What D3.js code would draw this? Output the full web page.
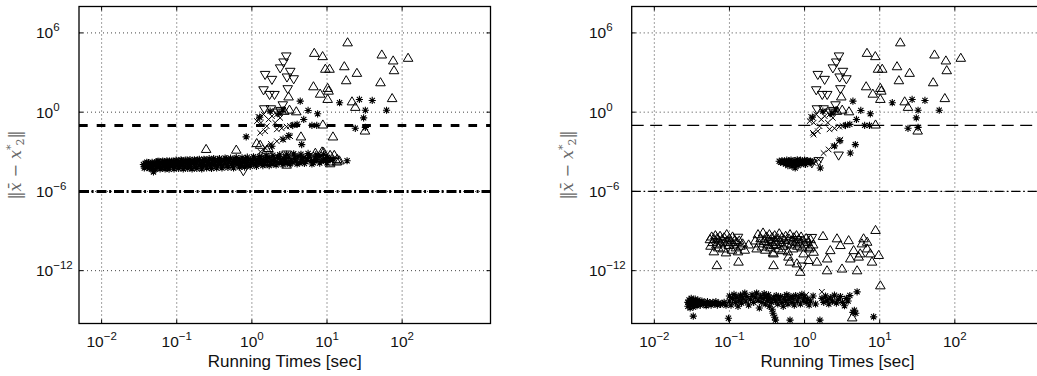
<!DOCTYPE html>
<html><head><meta charset="utf-8">
<script src="https://cdn.jsdelivr.net/npm/d3@7"></script>
<style>body{margin:0;background:#fff}svg{display:block}</style>
</head><body><svg id="c" width="1037" height="376"></svg>
<script>
// ---------- axis settings ----------
const xTickValues=[1e-2,1e-1,1,10,100];
const yTickValues=[1e-12,1e-6,1,1e6];
const xDomain=[0.005,1500];
const yDomain=[1e-16,1e8];
const thresholdDashed=0.1;
const thresholdDashDot=1e-6;
const xLabel="Running Times [sec]";

// ---------- points shared by both panels (diverged runs) ----------
const hiUpTri=[[18.8,2e5],[6.77,3.2e4],[8.74,1.8e4],[53.6,2.4e4],[76,8.5e3],[120,1.35e4],[78,1.55e3],[9.5,2e3],[10.8,2e3],[17,3.1e3],[25,980],[18,270],[6.6,94],[10.2,71],[10.5,44],[8.1,26],[10.2,10.4],[51.5,190],[73.6,12],[3.08,16],[21.5,6.8],[23.8,2.6],[3.9,1.2],[3.17,1.6],[8.8,0.12],[32,0.042],[2.7,1.3]];
const hiDownTri=[[2.87,1.6e4],[2.64,5.6e3],[2.38,2e3],[3.24,1.1e3],[3.6,300],[2.93,410],[1.5,640],[1.85,270],[1.43,44],[1.72,19.5],[2.0,19.5],[3.0,53],[1.46,1.6],[1.79,1.6],[2.58,3.2],[2.4,1.2],[2.2,0.9]];
const hiStar=[[4.4,6.8],[5.6,1.35],[7.5,0.75],[4.9,0.28],[14.7,5.2],[27,9.2],[40,7.7],[32.4,1.4],[62,1.4],[30.7,0.37],[23.8,0.06],[32.4,0.07],[6.3,0.1],[7.3,0.1],[1.27,0.42],[1.75,1.2],[2.3,0.85],[2.6,1.45],[3.5,0.1],[4.0,0.12]];
const hiCross=[[1.22,0.45],[1.43,0.67],[1.67,0.28],[1.32,0.16],[1.58,0.087],[1.5,0.036],[1.29,0.027],[1.85,0.5],[2.15,0.67],[2.38,0.37],[2.04,0.16],[1.17,0.21],[2.15,0.05],[2.5,0.06],[2.9,0.08],[3.2,0.09],[3.6,0.11]];

// ---------- left panel only ----------
const leftStar=[[0.036,1.1e-4],[0.037,8e-5],[0.038,1.3e-4],[0.039,9e-5],[0.04,1.2e-4],[0.041,7e-5],[0.042,1.5e-4],[0.043,1e-4],[0.044,6.5e-5],[0.045,1.3e-4],[0.046,8.5e-5],[0.047,1.6e-4],[0.048,5.5e-5],[0.049,1.1e-4],[0.049,3e-5],[0.051,1.4e-4],[0.052,9e-5],[0.054,1.7e-4],[0.055,7e-5],[0.057,1.2e-4],[0.058,1.9e-4],[0.06,8e-5],[0.062,1.4e-4],[0.064,6e-5],[0.066,1.1e-4],[0.068,1.8e-4],[0.07,9e-5],[0.072,1.5e-4],[0.075,6.5e-5],[0.077,1.2e-4],[0.08,2e-4],[0.082,8e-5],[0.085,1.4e-4],[0.088,1e-4],[0.09,1.9e-4],[0.093,7e-5],[0.096,1.3e-4],[0.1,2.1e-4],[0.1,9e-5],[0.104,1.5e-4],[0.108,7.5e-5],[0.112,1.2e-4],[0.116,2.2e-4],[0.12,9.5e-5],[0.124,1.6e-4],[0.128,7e-5],[0.132,1.3e-4],[0.137,2.3e-4],[0.142,1e-4],[0.147,1.7e-4],[0.152,8e-5],[0.158,1.4e-4],[0.164,2.1e-4],[0.17,1.1e-4],[0.176,7e-5],[0.183,1.6e-4],[0.19,2.4e-4],[0.197,1e-4],[0.205,1.4e-4],[0.213,7.5e-5],[0.22,1.9e-4],[0.228,1.2e-4],[0.236,2.5e-4],[0.245,9e-5],[0.255,1.5e-4],[0.265,2.2e-4],[0.275,1.1e-4],[0.285,7e-5],[0.295,1.7e-4],[0.305,2.6e-4],[0.317,1.2e-4],[0.33,1.9e-4],[0.342,9e-5],[0.355,1.5e-4],[0.368,2.7e-4],[0.382,1.1e-4],[0.396,1.8e-4],[0.41,8e-5],[0.425,2.2e-4],[0.44,1.4e-4],[0.457,2.9e-4],[0.474,1e-4],[0.49,1.7e-4],[0.51,2.4e-4],[0.53,1.2e-4],[0.55,8.5e-5],[0.57,2e-4],[0.59,1.5e-4],[0.61,2.8e-4],[0.635,1.1e-4],[0.66,1.8e-4],[0.685,2.4e-4],[0.71,1.3e-4],[0.735,9e-5],[0.76,2.1e-4],[0.79,1.6e-4],[0.82,3e-4],[0.85,1.2e-4],[0.88,2e-4],[0.91,1e-4],[0.95,2.6e-4],[0.98,1.5e-4],[1.02,2.2e-4],[1.06,1.1e-4],[1.1,3.2e-4],[1.14,1.7e-4],[1.18,2.5e-4],[1.23,1.3e-4],[1.28,2e-4],[1.33,3.4e-4],[1.38,1.5e-4],[1.43,2.3e-4],[1.49,1.1e-4],[1.55,2.8e-4],[1.62,1.8e-4],[1.69,3.6e-4],[1.76,1.4e-4],[1.84,2.3e-4],[1.92,1.2e-4],[2.0,3e-4],[2.1,1.9e-4],[2.2,4e-4],[2.3,1.4e-4],[2.4,2.6e-4],[2.5,1.7e-4],[2.65,3.3e-4],[2.8,2.1e-4],[2.95,1.4e-4],[3.1,4e-4],[3.3,2.4e-4],[3.5,1.6e-4],[3.7,3.2e-4],[3.9,2e-4],[4.1,4.5e-4],[4.35,1.5e-4],[4.6,2.8e-4],[4.9,3.8e-4],[5.2,1.8e-4],[5.5,3e-4],[5.8,5e-4],[6.2,2.2e-4],[6.6,1.5e-4],[7.0,3.5e-4],[7.4,2.6e-4],[7.9,4.5e-4],[8.4,1.9e-4],[9.0,3e-4],[9.6,2.2e-4],[10.2,3.8e-4],[11,2.5e-4],[12,3e-4],[18.5,2.1e-4],[0.84,0.0135],[4.6,3.5e-3],[1.85,2.6e-3],[3.1,0.017],[2.6,9e-3]];
const leftStarEdge=[[0.037,6e-5],[0.04,1.6e-4],[0.043,5.5e-5],[0.047,5.5e-5],[0.052,5e-5],[0.056,1.9e-4],[0.06,5e-5],[0.065,2e-4],[0.07,5e-5],[0.074,2.1e-4],[0.079,4.8e-5],[0.086,2e-4],[0.092,5e-5],[0.098,2.3e-4],[0.106,5.5e-5],[0.114,2.5e-4],[0.122,5e-5],[0.13,2.3e-4],[0.14,5.5e-5],[0.15,2.6e-4],[0.16,5e-5],[0.172,2.5e-4],[0.185,5.5e-5],[0.2,2.7e-4],[0.215,5e-5],[0.23,2.7e-4],[0.25,6e-5],[0.27,3e-4],[0.29,5.5e-5],[0.31,3.1e-4],[0.34,6e-5],[0.37,3.1e-4],[0.4,6e-5],[0.44,3.4e-4],[0.48,6.5e-5],[0.52,3.3e-4],[0.57,6e-5],[0.62,3.6e-4],[0.68,7e-5],[0.74,3.5e-4],[0.8,7e-5],[0.87,3.9e-4],[0.95,8e-5],[1.05,4.2e-4],[1.15,8e-5],[1.27,4.5e-4],[1.4,9e-5],[1.55,5e-4],[1.7,9e-5],[1.9,5.5e-4],[2.1,1e-4],[2.35,6e-4],[2.6,1.1e-4],[2.9,6.5e-4],[3.2,1.2e-4],[3.6,7e-4],[4.0,1.2e-4],[4.5,6.5e-4],[5.0,1.3e-4],[5.6,7.5e-4],[6.3,1.2e-4],[7.1,6e-4],[8.0,1.4e-4],[9.0,6.5e-4],[10,1.5e-4]];
const leftUpTri=[[0.246,1.7e-3],[0.62,1.5e-3],[1.58,1.5e-3],[1.16,4.7e-3],[2.9,1.9e-4],[2.9,1.1e-4],[8.6,1.1e-3],[12.5,6e-4],[13.7,3e-4],[11.1,1.9e-4],[7.7,3.5e-4],[14.6,2.3e-4],[4.5,0.015],[12,0.015],[1.29,3.5e-3],[1.66,2e-3],[7,8.7e-4],[9,1e-3],[11,6e-4],[11,1.4e-4],[13.5,1.9e-4],[2.2,3e-4],[5.5,4e-4]];
const leftDownTri=[[0.77,3.3e-5],[2.9,6e-4],[1.4,2.5e-4]];
const leftCross=[[1.79,4e-3],[2.15,6.3e-3],[2.58,8.5e-3],[2.98,0.0126],[3.24,0.015],[1.5,2e-3],[1.3,1e-3]];

// ---------- right panel only ----------
const rightMidStar=[[0.46,1.9e-4],[0.48,1.6e-4],[0.5,2.2e-4],[0.52,1.5e-4],[0.54,2e-4],[0.56,1.2e-4],[0.58,2.3e-4],[0.6,1.6e-4],[0.6,9e-5],[0.62,2.1e-4],[0.64,1.3e-4],[0.66,2.4e-4],[0.68,8e-5],[0.7,1.8e-4],[0.72,1.1e-4],[0.74,2.2e-4],[0.75,6e-5],[0.77,1.4e-4],[0.8,2.5e-4],[0.82,9e-5],[0.85,1.7e-4],[0.88,2.3e-4],[0.9,1.2e-4],[0.93,2e-4],[0.96,1.5e-4],[1.0,2.4e-4],[1.03,1.1e-4],[1.06,1.9e-4],[1.1,2.2e-4],[1.15,1.5e-4],[1.2,2e-4],[1.25,1.7e-4],[1.62,6e-5],[4.06,8e-4],[4.74,3.5e-3],[2.5,2.8e-3],[2.95,7e-3]];
const rightMidDownTri=[[1.54,1.9e-4],[2.84,5e-4],[1.25,1.3e-4]];
const rightMidCross=[[1.32,1.4e-4],[1.54,2.5e-4],[1.79,8e-4],[2.09,1.5e-3],[2.44,2.6e-3],[2.84,6.3e-3],[2.99,8.3e-3],[1.32,0.02]];
const rightLowUpTri=[[0.055,2.5e-10],[0.056,8e-11],[0.058,4e-10],[0.06,1.5e-10],[0.062,3e-11],[0.063,2.5e-10],[0.065,5e-10],[0.067,1e-10],[0.069,3e-10],[0.071,6e-11],[0.073,2e-10],[0.075,4.5e-10],[0.077,1.2e-10],[0.08,2.5e-10],[0.082,5e-11],[0.085,3.5e-10],[0.087,1.5e-10],[0.09,2.5e-11],[0.092,6e-10],[0.095,2e-10],[0.098,9e-11],[0.1,3e-10],[0.104,1.5e-10],[0.108,4e-11],[0.11,4e-10],[0.114,1e-10],[0.118,2.2e-10],[0.122,6e-11],[0.126,1.5e-10],[0.13,3e-11],[0.135,2e-10],[0.14,8e-11],[0.15,1.2e-10],[0.16,4e-11],[0.18,1e-10],
[0.22,2e-10],[0.23,5e-11],[0.24,6e-10],[0.25,1.2e-10],[0.26,3e-10],[0.27,7e-11],[0.28,8e-10],[0.29,1.8e-10],[0.3,4e-11],[0.31,4e-10],[0.32,1e-10],[0.33,2.5e-10],[0.34,6e-10],[0.35,6e-11],[0.36,1.5e-10],[0.37,3.5e-10],[0.38,2.5e-11],[0.39,9e-11],[0.4,5e-10],[0.41,2e-10],[0.42,1.1e-10],[0.44,3e-10],[0.45,5e-11],[0.46,7e-10],[0.48,1.5e-10],[0.5,3.5e-10],[0.52,8e-11],[0.54,2.2e-10],[0.56,4.5e-10],[0.58,1.2e-10],[0.6,3e-11],[0.62,2.8e-10],[0.64,6e-10],[0.66,1e-10],[0.68,2e-10],[0.7,5e-11],[0.72,3.5e-10],[0.75,1.5e-10],[0.78,5e-10],[0.8,8e-11],[0.83,2.5e-10],[0.86,1.2e-10],[0.9,4e-10],[0.93,6e-11],[0.96,2e-10],[1.0,1e-10],[1.05,3e-10],[1.1,1.5e-10],[1.15,5e-11],[1.2,2.5e-10],[1.3,1e-10],
[0.068,2.7e-12],[0.132,5e-12],[0.386,2.7e-12],[0.876,8.5e-13],[1.99,1.1e-12],[3.15,1.5e-12],[5,1.1e-12],[7.9,5e-12],[9.7,1.6e-11],[8.8,1.25e-9],[10.2,8e-14],[4.3,3e-16],[1.76,4.4e-10],[2.7,2.9e-10],[3.86,2.1e-10],[6.1,2.9e-10],[5.8,1.2e-10],[6.8,1.6e-10],[2.2,3.7e-11],[2,8.7e-12],[1.46,5e-12],[1.13,6.6e-12],[0.79,3.7e-12],[0.64,5e-12],[4.06,8.7e-12],[5.25,1.2e-11],[5.5,2.1e-11],[7.5,2.1e-11],[6.8,5e-11],[3,9e-11],[4.5,3.7e-11],[1.32,2.8e-11],[0.97,2.1e-11],[1.19,6.7e-11],[0.386,2.1e-11],[0.5,3.7e-11],[0.61,1.2e-11]];
const rightLowDownTri=[[1.25,2.9e-10],[0.92,2e-12],[0.8,2e-10],[0.35,1.5e-10],[0.13,3e-10]];
const rightLowStar=[[0.028,4e-15],[0.028,2e-15],[0.029,6e-15],[0.029,3e-15],[0.03,1.5e-15],[0.03,5e-15],[0.031,3.5e-15],[0.031,8e-15],[0.032,2.5e-15],[0.033,5.5e-15],[0.033,1.8e-15],[0.034,4e-15],[0.035,7e-15],[0.035,2.8e-15],[0.036,4.5e-15],[0.037,2.2e-15],[0.038,6e-15],[0.039,3.5e-15],[0.04,4.5e-15],[0.041,2.5e-15],[0.043,5e-15],[0.045,3e-15],[0.047,4e-15],[0.049,2.2e-15],[0.051,4.5e-15],[0.053,3e-15],[0.055,3.8e-15],[0.057,2.5e-15],[0.06,4e-15],[0.063,3e-15],[0.066,4.5e-15],[0.069,2.5e-15],[0.072,3.5e-15],[0.076,2.8e-15],[0.08,3.2e-15],[0.085,4e-15],[0.09,2.4e-15],[0.033,3.6e-16],[0.097,2.5e-16],
[0.1,1.2e-14],[0.1,5e-15],[0.105,2.5e-15],[0.11,8e-15],[0.115,1.6e-14],[0.12,4e-15],[0.125,1e-14],[0.13,2e-15],[0.135,6e-15],[0.14,1.4e-14],[0.145,3.5e-15],[0.15,9e-15],[0.16,2e-14],[0.165,5e-15],[0.17,1.1e-14],[0.18,2.5e-15],[0.19,7e-15],[0.2,1.5e-14],[0.21,4e-15],[0.22,1e-14],[0.23,2e-14],[0.24,6e-15],[0.25,1.5e-15],[0.26,1.2e-14],[0.27,4e-15],[0.28,8e-15],[0.29,1.8e-14],[0.3,3e-15],[0.31,1e-14],[0.32,6e-15],[0.33,1.5e-14],[0.34,2e-15],[0.35,8e-15],[0.36,4e-15],[0.37,1.2e-15],[0.38,6e-16],[0.39,9e-15],[0.4,3e-16],[0.41,5e-15],[0.41,1.8e-16],[0.42,1.3e-14],[0.44,3e-15],[0.46,7e-15],[0.48,1.1e-14],[0.5,4e-15],[0.52,2e-15],[0.54,9e-15],[0.56,5e-15],[0.58,1.5e-14],[0.6,3e-15],[0.62,7e-15],[0.64,1.8e-16],[0.66,1.1e-14],[0.68,4e-15],[0.7,8e-15],[0.73,2.5e-15],[0.76,1.3e-14],[0.8,5e-15],[0.84,1e-14],[0.88,3e-15],[0.92,1.6e-14],[0.96,6e-15],[1.0,1e-14],[1.05,4e-15],[1.1,7e-15],[1.15,2.5e-15],[1.2,5e-15],[1.3,1.2e-14],[1.4,3e-15],
[1.6,1.8e-16],[1.7,8e-15],[1.8,4e-15],[1.9,1.2e-14],[2.0,6e-15],[2.1,3e-15],[2.2,9e-15],[2.35,5e-15],[2.5,1.4e-14],[2.65,3.5e-15],[2.8,7e-15],[3.0,1.1e-14],[3.2,4e-15],[3.4,2.2e-15],[3.6,8e-15],[3.8,5e-15],[4.0,1.3e-14],[4.4,7e-16],[4.6,1e-15],[4.8,6e-16],[5,2.5e-14],[8.3,3.2e-16]];
const rightLowCross=[[1.7,2.5e-14],[0.64,1e-14],[0.58,1.3e-14],[0.45,9e-15],[1.05,1.5e-14],[0.3,1.2e-14]];

// ---------- drawing ----------
const svg=d3.select("#c");
const yRange=[323.5,6.5];
const sup=v=>{const e=Math.round(Math.log10(v));return (e<0?"\u2212":"")+Math.abs(e);};

const markPaths={
  up:"M0,-4.4L4.8,3.7L-4.8,3.7Z",
  down:"M0,4.4L4.8,-3.7L-4.8,-3.7Z",
  star:"M-3.6,0H3.6M0,-3.6V3.6M-2.6,-2.6L2.6,2.6M-2.6,2.6L2.6,-2.6",
  cross:"M-2.8,-2.8L2.8,2.8M-2.8,2.8L2.8,-2.8"
};

const panels=[
  {id:"L",xr:[79,490.5],tickLabelX:36,yLabX:21,lw:3,dashA:"8.7,9",dashB:"10,2.6,2,2.9",
   sets:[["star",leftStar],["star",leftStarEdge],["star",hiStar],["cross",hiCross],["cross",leftCross],["up",hiUpTri],["up",leftUpTri],["down",hiDownTri],["down",leftDownTri]]},
  {id:"R",xr:[631.7,1043.2],tickLabelX:589,yLabX:573,lw:1.2,dashA:"12,6.5",dashB:"9,3,1.5,3",
   sets:[["star",rightLowStar],["cross",rightLowCross],["star",rightMidStar],["star",hiStar],["cross",hiCross],["cross",rightMidCross],["up",rightLowUpTri],["up",hiUpTri],["down",rightLowDownTri],["down",rightMidDownTri],["down",hiDownTri]]}
];

panels.forEach(p=>{
  const x=d3.scaleLog().domain(xDomain).range(p.xr);
  const y=d3.scaleLog().domain(yDomain).range(yRange);
  const g=svg.append("g");
  const cid="clip"+p.id;
  svg.append("clipPath").attr("id",cid).append("rect")
    .attr("x",p.xr[0]).attr("y",yRange[1]).attr("width",p.xr[1]-p.xr[0]).attr("height",yRange[0]-yRange[1]);

  g.selectAll(".gx").data(xTickValues).join("line").attr("class","gx")
    .attr("x1",d=>x(d)).attr("x2",d=>x(d)).attr("y1",yRange[0]).attr("y2",yRange[1])
    .attr("stroke","#444").attr("stroke-width",1).attr("stroke-dasharray","1,3");
  g.selectAll(".gy").data(yTickValues).join("line").attr("class","gy")
    .attr("y1",d=>y(d)).attr("y2",d=>y(d)).attr("x1",p.xr[0]).attr("x2",p.xr[1])
    .attr("stroke","#444").attr("stroke-width",1).attr("stroke-dasharray","1,3");

  const pg=g.append("g").attr("clip-path",`url(#${cid})`);
  pg.append("line").attr("x1",p.xr[0]).attr("x2",p.xr[1]).attr("y1",y(thresholdDashed)).attr("y2",y(thresholdDashed))
    .attr("stroke","#000").attr("stroke-width",p.lw).attr("stroke-dasharray",p.dashA);
  pg.append("line").attr("x1",p.xr[0]).attr("x2",p.xr[1]).attr("y1",y(thresholdDashDot)).attr("y2",y(thresholdDashDot))
    .attr("stroke","#000").attr("stroke-width",p.lw).attr("stroke-dasharray",p.dashB);

  p.sets.forEach(([kind,data])=>{
    pg.append("g").selectAll("path").data(data).join("path")
      .attr("d",markPaths[kind])
      .attr("transform",d=>`translate(${x(d[0])},${y(d[1])})`)
      .attr("fill","none").attr("stroke","#000").attr("stroke-width",kind==="star"?1.1:1);
  });

  g.append("rect").attr("x",p.xr[0]).attr("y",yRange[1]).attr("width",p.xr[1]-p.xr[0]).attr("height",yRange[0]-yRange[1])
    .attr("fill","none").attr("stroke","#000").attr("stroke-width",1.3);
  xTickValues.forEach(v=>{
    g.append("line").attr("x1",x(v)).attr("x2",x(v)).attr("y1",yRange[0]).attr("y2",yRange[0]-4).attr("stroke","#000");
    g.append("line").attr("x1",x(v)).attr("x2",x(v)).attr("y1",yRange[1]).attr("y2",yRange[1]+4).attr("stroke","#000");
  });
  yTickValues.forEach(v=>{
    g.append("line").attr("y1",y(v)).attr("y2",y(v)).attr("x1",p.xr[0]).attr("x2",p.xr[0]+4).attr("stroke","#000");
    g.append("line").attr("y1",y(v)).attr("y2",y(v)).attr("x1",p.xr[1]).attr("x2",p.xr[1]-4).attr("stroke","#000");
  });

  const font="'Liberation Sans',Arial,Helvetica,sans-serif";
  xTickValues.forEach(v=>{
    const t=g.append("text").attr("x",x(v)).attr("y",346.5).attr("text-anchor","middle")
      .attr("font-family",font).attr("fill","#111");
    t.append("tspan").attr("font-size",15.5).text("10");
    t.append("tspan").attr("font-size",11.5).attr("dy",-7).text(sup(v));
  });
  yTickValues.forEach(v=>{
    const t=g.append("text").attr("x",p.tickLabelX).attr("y",y(v)+5.5).attr("text-anchor","start")
      .attr("font-family",font).attr("fill","#111");
    t.append("tspan").attr("font-size",15.5).text("10");
    t.append("tspan").attr("font-size",11.5).attr("dy",-7).text(sup(v));
  });

  g.append("text").attr("x",(p.xr[0]+p.xr[1])/2).attr("y",366.5).attr("text-anchor","middle")
    .attr("font-family",font).attr("font-size",17).attr("fill","#111").text(xLabel);

  const yl=g.append("text").attr("transform",`translate(${p.yLabX},${(yRange[0]+yRange[1])/2}) rotate(-90)`)
    .attr("text-anchor","middle").attr("font-family","'DejaVu Serif',serif").attr("font-size",16).attr("fill","#666");
  yl.append("tspan").text("\u2016");
  yl.append("tspan").attr("font-style","italic").text("x\u0304");
  yl.append("tspan").text(" \u2212      ");
  yl.append("tspan").attr("font-style","italic").text("x");
  yl.append("tspan").attr("font-size",11).attr("dy",-7).text("*");
  yl.append("tspan").attr("font-size",11).attr("dy",10).attr("dx",-1).text("2");
  yl.append("tspan").attr("dy",-3).text("\u2016");
});
</script></body></html>
